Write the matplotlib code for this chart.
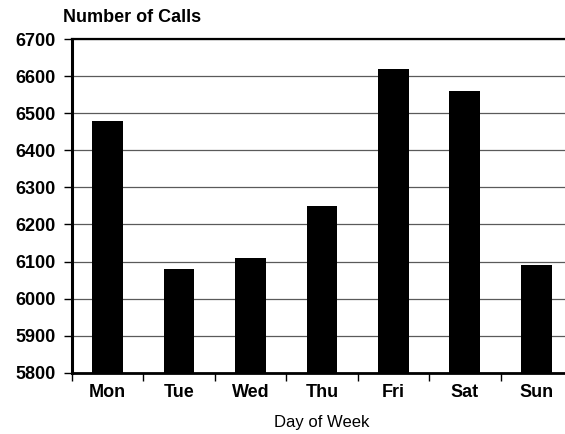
import numpy as np
import matplotlib.pyplot as plt
from matplotlib.ticker import FixedLocator, MultipleLocator

# calls per weekday
days = ['Mon', 'Tue', 'Wed', 'Thu', 'Fri', 'Sat', 'Sun']
calls = [6480, 6080, 6110, 6250, 6620, 6560, 6090]

plt.rcParams['font.family'] = ['Liberation Sans', 'DejaVu Sans']
plt.rcParams['font.weight'] = 'bold'

fig = plt.figure(figsize=(5.65, 4.34), dpi=100)
ax = fig.add_axes([0.1274, 0.141, 0.885, 0.769])

x = np.arange(len(days))
ax.bar(x, calls, width=0.43, color='black', zorder=3)

ax.set_ylim(5800, 6700)
ax.set_xlim(-0.5, 6.5)
ax.yaxis.set_major_locator(MultipleLocator(100))
ax.grid(axis='y', color='#5a5a5a', linewidth=0.9, zorder=0)

ax.set_xticks(x)
ax.set_xticklabels(days)
# tick marks sit between the days, labels under the bars
ax.xaxis.set_minor_locator(FixedLocator(np.arange(-0.5, 6.6, 1.0)))
ax.tick_params(axis='x', which='major', length=0, pad=8, labelsize=13)
ax.tick_params(axis='x', which='minor', length=6, width=1.0, direction='out')
ax.tick_params(axis='y', length=6, width=1.0, labelsize=13, pad=6)

ax.spines['right'].set_visible(False)
ax.spines['left'].set_linewidth(2.2)
ax.spines['bottom'].set_linewidth(2.0)
ax.spines['top'].set_linewidth(1.6)

ax.set_xlabel('Day of Week', fontsize=12, labelpad=10)
fig.text(0.112, 0.96, 'Number of Calls', fontsize=13, ha='left', va='center')

fig.savefig('out.png', dpi=100)
